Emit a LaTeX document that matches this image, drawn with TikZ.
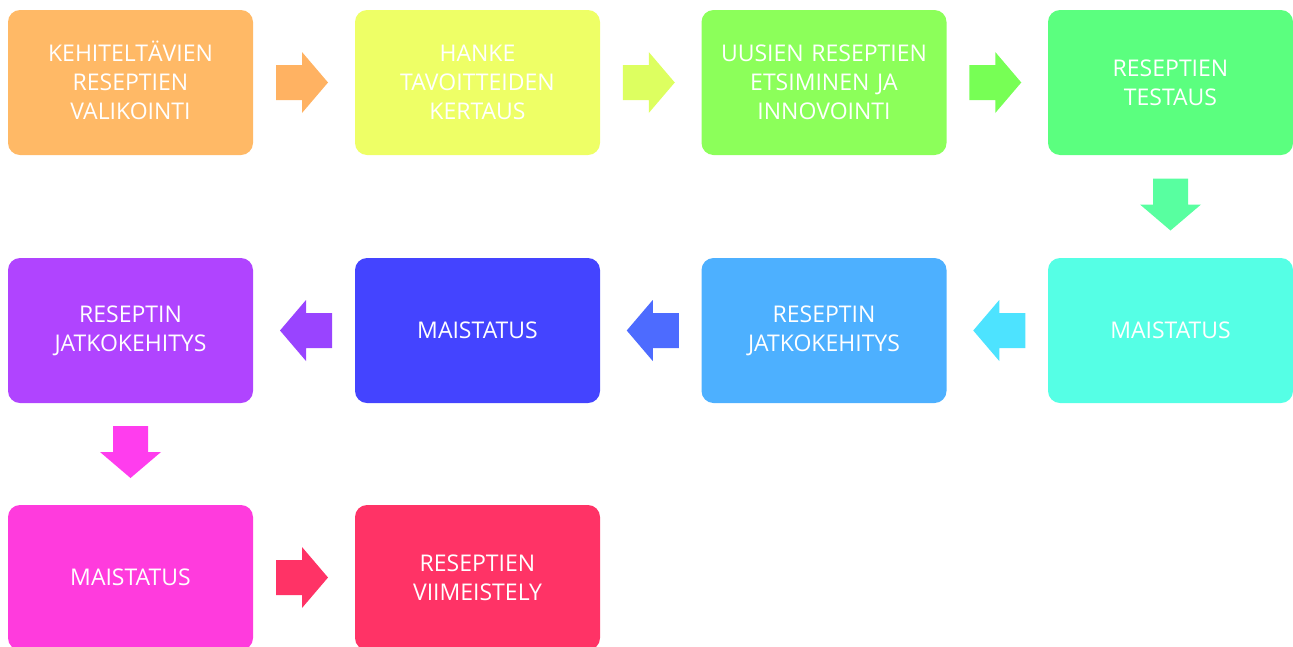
\documentclass[tikz,border=0pt]{standalone}
\usepackage{fontspec}
\setmainfont{Open Sans}
\usetikzlibrary{calc}
\definecolor{b1}{HTML}{FFB966}
\definecolor{a1}{HTML}{FFB262}
\definecolor{b2}{HTML}{EEFF66}
\definecolor{a2}{HTML}{DDFF60}
\definecolor{b3}{HTML}{8CFF5A}
\definecolor{a3}{HTML}{77FF55}
\definecolor{b4}{HTML}{5BFF7F}
\definecolor{a4}{HTML}{58FFA0}
\definecolor{b5}{HTML}{55FFE5}
\definecolor{a5}{HTML}{4DE3FF}
\definecolor{b6}{HTML}{4DB0FF}
\definecolor{a6}{HTML}{4D6BFF}
\definecolor{b7}{HTML}{4444FF}
\definecolor{a7}{HTML}{9944FF}
\definecolor{b8}{HTML}{B044FF}
\definecolor{a8}{HTML}{FF3DEE}
\definecolor{b9}{HTML}{FF3BDD}
\definecolor{a9}{HTML}{FF3366}
\definecolor{b10}{HTML}{FF3366}
\tikzset{
  stepbox/.style={fill=#1, draw=none, rounded corners=12pt, minimum width=245pt, minimum height=145pt,
    inner sep=0pt, text width=240pt, align=center, text=white, font=\fontsize{23}{29}\selectfont},
  bigarrow/.pic={\fill (-28,-17.5) -- (-2,-17.5) -- (-2,-30.5) -- (24,0) -- (-2,30.5) -- (-2,17.5) -- (-28,17.5) -- cycle;}
}
\begin{document}
\begin{tikzpicture}[x=1pt,y=-1pt]
\useasboundingbox (0,0) rectangle (1293,646);
\node[stepbox=b1] (n1) at (130.5,82.5) {KEHITELT\smash{Ä}VIEN\\RESEPTIEN\\VALIKOINTI};
\node[stepbox=b2] (n2) at (477.5,82.5) {HANKE\\TAVOITTEIDEN\\KERTAUS};
\node[stepbox=b3] (n3) at (824,82.5) {UUSIEN RESEPTIEN\\ETSIMINEN JA\\INNOVOINTI};
\node[stepbox=b4] (n4) at (1170.5,82.5) {RESEPTIEN\\TESTAUS};
\node[stepbox=b5] (n5) at (1170.5,330.5) {MAISTATUS};
\node[stepbox=b6] (n6) at (824,330.5) {RESEPTIN\\JATKOKEHITYS};
\node[stepbox=b7] (n7) at (477.5,330.5) {MAISTATUS};
\node[stepbox=b8] (n8) at (130.5,330.5) {RESEPTIN\\JATKOKEHITYS};
\node[stepbox=b9] (n9) at (130.5,577.5) {MAISTATUS};
\node[stepbox=b10] (n10) at (477.5,577.5) {RESEPTIEN\\VIIMEISTELY};
\pic[fill=a1] at ($(n1.east)!.5!(n2.west)$) {bigarrow};
\pic[fill=a2] at ($(n2.east)!.5!(n3.west)$) {bigarrow};
\pic[fill=a3] at ($(n3.east)!.5!(n4.west)$) {bigarrow};
\pic[fill=a4, rotate=-90] at ($(n4.south)!.5!(n5.north)$) {bigarrow};
\pic[fill=a5, rotate=180] at ($(n5.west)!.5!(n6.east)$) {bigarrow};
\pic[fill=a6, rotate=180] at ($(n6.west)!.5!(n7.east)$) {bigarrow};
\pic[fill=a7, rotate=180] at ($(n7.west)!.5!(n8.east)$) {bigarrow};
\pic[fill=a8, rotate=-90] at ($(n8.south)!.5!(n9.north)$) {bigarrow};
\pic[fill=a9] at ($(n9.east)!.5!(n10.west)$) {bigarrow};
\end{tikzpicture}
\end{document}
